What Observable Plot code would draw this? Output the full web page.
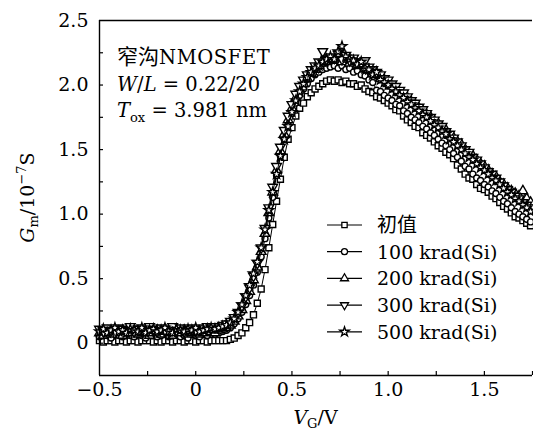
<!DOCTYPE html>
<html>
<head>
<meta charset="utf-8">
<script src="https://cdn.jsdelivr.net/npm/d3@7"></script>
<script src="https://cdn.jsdelivr.net/npm/@observablehq/plot@0.6"></script>
<style>
  html, body { margin: 0; padding: 0; background: #fff; }
  svg { display: block; }
</style>
</head>
<body>
<div id="chart"></div>
<script>
// ---------- data ----------
const vg = [
  -0.50,-0.48,-0.46,-0.44,-0.42,-0.40,-0.38,-0.36,-0.34,-0.32,
  -0.30,-0.28,-0.26,-0.24,-0.22,-0.20,-0.18,-0.16,-0.14,-0.12,
  -0.10,-0.08,-0.06,-0.04,-0.02,0.00,0.02,0.04,0.06,0.08,
  0.10,0.12,0.14,0.16,0.18,0.20,0.22,0.24,0.26,0.28,
  0.30,0.32,0.34,0.36,0.38,0.40,0.42,0.44,0.46,0.48,
  0.50,0.52,0.54,0.56,0.58,0.60,0.62,0.64,0.66,0.68,
  0.70,0.72,0.74,0.76,0.78,0.80,0.82,0.84,0.86,0.88,
  0.90,0.92,0.94,0.96,0.98,1.00,1.02,1.04,1.06,1.08,
  1.10,1.12,1.14,1.16,1.18,1.20,1.22,1.24,1.26,1.28,
  1.30,1.32,1.34,1.36,1.38,1.40,1.42,1.44,1.46,1.48,
  1.50,1.52,1.54,1.56,1.58,1.60,1.62,1.64,1.66,1.68,
  1.70,1.72,1.74
];
const gmInitial = [
  0.02,0.01,0.02,0.02,0.01,0.02,0.02,0.01,0.02,0.02,
  0.01,0.02,0.02,0.02,0.01,0.02,0.01,0.02,0.02,0.01,
  0.02,0.02,0.01,0.02,0.02,0.01,0.02,0.02,0.01,0.02,
  0.02,0.02,0.02,0.02,0.03,0.04,0.06,0.08,0.12,0.16,
  0.22,0.31,0.42,0.57,0.74,0.92,1.10,1.27,1.44,1.58,
  1.67,1.76,1.82,1.86,1.91,1.94,1.97,1.99,2.01,2.03,
  2.04,2.03,2.04,2.02,2.03,2.01,2.01,1.99,2.00,1.97,
  1.95,1.94,1.91,1.90,1.88,1.86,1.84,1.81,1.80,1.76,
  1.73,1.71,1.68,1.67,1.63,1.61,1.59,1.56,1.53,1.51,
  1.48,1.46,1.43,1.38,1.35,1.31,1.28,1.27,1.23,1.20,
  1.19,1.17,1.14,1.12,1.09,1.06,1.04,1.01,0.98,0.97,
  0.95,0.93,0.91
];
const gm100 = [
  0.05,0.07,0.06,0.04,0.07,0.06,0.05,0.08,0.06,0.05,
  0.07,0.06,0.04,0.06,0.07,0.05,0.06,0.08,0.05,0.06,
  0.07,0.05,0.06,0.04,0.07,0.06,0.05,0.07,0.06,0.08,
  0.07,0.08,0.09,0.10,0.12,0.15,0.19,0.24,0.30,0.37,
  0.45,0.55,0.67,0.81,0.97,1.13,1.30,1.45,1.58,1.69,
  1.78,1.86,1.92,1.97,2.01,2.05,2.08,2.10,2.12,2.13,
  2.14,2.15,2.13,2.15,2.12,2.13,2.10,2.11,2.08,2.07,
  2.04,2.02,1.96,1.95,1.92,1.90,1.88,1.85,1.84,1.80,
  1.78,1.75,1.73,1.71,1.68,1.66,1.63,1.61,1.58,1.55,
  1.53,1.50,1.47,1.44,1.41,1.37,1.35,1.31,1.28,1.26,
  1.23,1.21,1.18,1.16,1.13,1.10,1.08,1.05,1.02,1.00,
  0.98,0.96,0.94
];
const gm200 = [
  0.08,0.06,0.09,0.07,0.10,0.08,0.06,0.09,0.08,0.10,
  0.07,0.08,0.09,0.06,0.08,0.10,0.07,0.09,0.08,0.06,
  0.09,0.08,0.10,0.07,0.08,0.09,0.07,0.08,0.10,0.09,
  0.08,0.10,0.11,0.12,0.14,0.17,0.21,0.26,0.33,0.40,
  0.49,0.59,0.71,0.85,1.01,1.17,1.34,1.49,1.62,1.73,
  1.82,1.90,1.96,2.01,2.05,2.09,2.12,2.15,2.17,2.18,
  2.20,2.19,2.21,2.18,2.20,2.17,2.18,2.15,2.16,2.13,
  2.12,2.09,2.08,2.05,2.04,2.01,1.99,1.97,1.94,1.92,
  1.90,1.87,1.85,1.82,1.80,1.77,1.75,1.72,1.70,1.67,
  1.65,1.61,1.59,1.56,1.54,1.50,1.47,1.45,1.42,1.39,
  1.37,1.34,1.31,1.29,1.25,1.23,1.20,1.18,1.16,1.14,
  1.18,1.12,1.09
];
const gm300 = [
  0.11,0.09,0.12,0.10,0.08,0.12,0.11,0.10,0.13,0.09,
  0.11,0.12,0.10,0.13,0.11,0.09,0.12,0.10,0.11,0.13,
  0.10,0.12,0.09,0.11,0.12,0.10,0.11,0.12,0.13,0.12,
  0.13,0.13,0.14,0.15,0.17,0.20,0.24,0.29,0.36,0.43,
  0.52,0.62,0.74,0.89,1.05,1.21,1.37,1.52,1.65,1.76,
  1.85,1.93,1.99,2.04,2.08,2.12,2.15,2.18,2.26,2.20,
  2.22,2.21,2.24,2.20,2.23,2.19,2.21,2.18,2.17,2.19,
  2.14,2.12,2.10,2.08,2.05,2.04,2.01,1.99,1.96,1.94,
  1.91,1.88,1.86,1.83,1.81,1.78,1.75,1.73,1.70,1.68,
  1.64,1.62,1.59,1.56,1.53,1.50,1.48,1.44,1.42,1.39,
  1.36,1.33,1.31,1.28,1.25,1.22,1.19,1.17,1.14,1.12,
  1.09,1.07,1.05
];
const gm500 = [
  0.09,0.11,0.08,0.10,0.12,0.09,0.10,0.08,0.11,0.10,
  0.09,0.12,0.08,0.10,0.11,0.09,0.10,0.12,0.09,0.08,
  0.11,0.10,0.09,0.11,0.10,0.12,0.09,0.10,0.11,0.12,
  0.11,0.12,0.13,0.14,0.16,0.19,0.24,0.30,0.37,0.45,
  0.54,0.63,0.74,0.88,1.03,1.17,1.31,1.45,1.58,1.68,
  1.79,1.88,1.95,2.01,2.06,2.10,2.13,2.15,2.18,2.20,
  2.22,2.20,2.26,2.30,2.22,2.20,2.19,2.16,2.18,2.13,
  2.12,2.08,2.10,2.04,2.02,2.00,1.97,1.95,1.92,1.90,
  1.87,1.85,1.82,1.80,1.77,1.75,1.72,1.69,1.67,1.64,
  1.62,1.58,1.56,1.53,1.50,1.47,1.44,1.42,1.39,1.36,
  1.34,1.31,1.28,1.26,1.23,1.20,1.17,1.15,1.12,1.10,
  1.07,1.05,1.02
];
const seriesNames = ["初值", "100 krad(Si)", "200 krad(Si)", "300 krad(Si)", "500 krad(Si)"];
const seriesValues = [gmInitial, gm100, gm200, gm300, gm500];
const xDomain = [-0.5, 1.75];
const yDomain = [-0.25, 2.5];
const xMinorTicks = [-0.25, 0, 0.25, 0.5, 0.75, 1.0, 1.25, 1.5, 1.75];
const yMinorTicks = [0, 0.25, 0.5, 0.75, 1.0, 1.25, 1.5, 1.75, 2.0, 2.25];
const xLabelTicks = [-0.5, 0, 0.5, 1.0, 1.5];
const yLabelTicks = [0, 0.5, 1.0, 1.5, 2.0, 2.5];

// ---------- symbols ----------
const triangleDown = {
  draw(context, size) {
    const y = -Math.sqrt(size / (Math.sqrt(3) * 3));
    context.moveTo(0, -y * 2);
    context.lineTo(-Math.sqrt(3) * y, y);
    context.lineTo(Math.sqrt(3) * y, y);
    context.closePath();
  }
};
const symbols = [d3.symbolSquare, d3.symbolCircle, d3.symbolTriangle, triangleDown, d3.symbolStar];
const radii = [3.4, 3.0, 3.6, 3.6, 3.0];

// ---------- table ----------
const rows = seriesValues.map((vals, s) => vals.map((g, i) => ({vg: vg[i], gm: g, series: seriesNames[s]})));

const W = 533, H = 434, mL = 99, mR = 1, mT = 20, mB = 59;
const plotH = H - mT - mB, plotW = W - mL - mR;
const tickLen = 4;
const fmt = d => d === 0 ? "0" : d3.format(".1f")(d);
const serif = "'DejaVu Serif', 'Liberation Serif', serif";
const cjk = "'Noto Sans CJK SC', sans-serif";

const marks = [];
rows.forEach((r, s) => {
  marks.push(Plot.line(r, {x: "vg", y: "gm", stroke: "black", strokeWidth: 1}));
  marks.push(Plot.dot(r, {x: "vg", y: "gm", symbol: symbols[s], r: radii[s], fill: "white", stroke: "black", strokeWidth: 1.4}));
});
marks.push(
  Plot.tickX(xMinorTicks, {x: d => d, insetTop: plotH - tickLen, stroke: "black", strokeWidth: 1.2}),
  Plot.tickY(yMinorTicks, {y: d => d, insetRight: plotW - tickLen, stroke: "black", strokeWidth: 1.2}),
  Plot.ruleX([xDomain[0]], {stroke: "black", strokeWidth: 1.4}),
  Plot.ruleY(yDomain, {stroke: "black", strokeWidth: 1.4}),
  Plot.axisX({ticks: xLabelTicks, tickSize: 0, tickPadding: 7, tickFormat: fmt, label: null, fontSize: 19}),
  Plot.axisY({ticks: yLabelTicks, tickSize: 0, tickPadding: 11, tickFormat: fmt, label: null, fontSize: 19})
);

const chart = Plot.plot({
  width: W, height: H,
  marginLeft: mL, marginRight: mR, marginTop: mT, marginBottom: mB,
  x: {domain: xDomain},
  y: {domain: yDomain},
  style: {fontFamily: serif, fontSize: "19px", color: "black", background: "white", overflow: "visible"},
  marks
});
document.getElementById("chart").appendChild(chart);

// ---------- text with math styling ----------
const svg = d3.select(chart);
const xs = chart.scale("x"), ys = chart.scale("y");
const X0 = xs.apply(xDomain[0]), X1 = xs.apply(xDomain[1]);
const Y0 = ys.apply(yDomain[0]), Y1 = ys.apply(yDomain[1]);

// annotation
const ann = svg.append("g").attr("font-family", serif).attr("font-size", 19.5).attr("fill", "black")
  .attr("text-anchor", "start");
const ax = X0 + 18;
const t1 = ann.append("text").attr("x", ax).attr("y", Y1 + 44);
t1.append("tspan").attr("font-family", cjk).attr("font-size", 21).text("窄沟");
t1.append("tspan").attr("letter-spacing", 0.6).text("NMOSFET");
const t2 = ann.append("text").attr("x", ax).attr("y", Y1 + 70.5);
t2.append("tspan").attr("font-style", "italic").text("W");
t2.append("tspan").text("/");
t2.append("tspan").attr("font-style", "italic").text("L");
t2.append("tspan").text(" = 0.22/20");
const t3 = ann.append("text").attr("x", ax).attr("y", Y1 + 96.5);
t3.append("tspan").attr("font-style", "italic").text("T");
t3.append("tspan").attr("font-size", 13).attr("dy", 5).text("ox");
t3.append("tspan").attr("dy", -5).text(" = 3.981 nm");

// legend
const lg = svg.append("g").attr("text-anchor", "start");
const legX1 = X0 + 228, legX2 = X0 + 263, legTx = X0 + 278, legY = Y1 + 205, legStep = 26.7;
seriesNames.forEach((name, s) => {
  const yy = legY + s * legStep;
  lg.append("line").attr("x1", legX1).attr("x2", legX2).attr("y1", yy).attr("y2", yy)
    .attr("stroke", "black").attr("stroke-width", 1.2);
  lg.append("path").attr("transform", `translate(${(legX1 + legX2) / 2},${yy})`)
    .attr("d", d3.symbol(symbols[s], Math.PI * 3 * 3)())
    .attr("fill", "white").attr("stroke", "black").attr("stroke-width", 1.3);
  lg.append("text").attr("x", legTx).attr("y", yy + 7)
    .attr("font-family", s === 0 ? cjk : serif).attr("font-size", s === 0 ? 20 : 19)
    .attr("fill", "black").text(name);
});

// y label
const yl = svg.append("text")
  .attr("transform", `translate(34,${(Y0 + Y1) / 2}) rotate(-90)`)
  .attr("text-anchor", "middle").attr("font-family", serif).attr("font-size", 19).attr("fill", "black");
yl.append("tspan").attr("font-style", "italic").text("G");
yl.append("tspan").attr("font-size", 13).attr("dy", 4).text("m");
yl.append("tspan").attr("dy", -4).text("/10");
yl.append("tspan").attr("font-size", 13).attr("dy", -8).text("−7");
yl.append("tspan").attr("dy", 8).text("S");

// x label
const xl = svg.append("text")
  .attr("x", (X0 + X1) / 2).attr("y", H - 10)
  .attr("text-anchor", "middle").attr("font-family", serif).attr("font-size", 19).attr("fill", "black");
xl.append("tspan").attr("font-style", "italic").text("V");
xl.append("tspan").attr("font-size", 13).attr("dy", 4).text("G");
xl.append("tspan").attr("dy", -4).text("/V");
</script>
</body>
</html>
